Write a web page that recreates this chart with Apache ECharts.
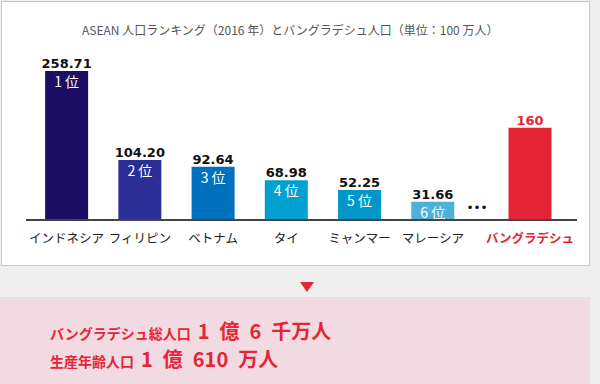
<!DOCTYPE html>
<html>
<head>
<meta charset="utf-8">
<script src="https://cdn.jsdelivr.net/npm/echarts@6/dist/echarts.min.js"></script>
<style>
html,body{margin:0;padding:0;width:600px;height:384px;overflow:hidden;background:#efefef;}
#panel{position:absolute;left:1px;top:1px;width:589px;height:265px;box-sizing:border-box;background:#fff;border:1px solid #c8c8c8;}
#chart{position:absolute;left:0;top:0;width:600px;height:384px;}
#tri{position:absolute;left:300px;top:282px;width:0;height:0;border-left:7.5px solid transparent;border-right:7.5px solid transparent;border-top:10px solid #e52535;}
#note{position:absolute;left:0;top:297px;width:590px;height:87px;background:#f1dae2;color:#e52535;font-family:"Noto Sans CJK JP";font-weight:bold;}
.line{position:absolute;left:50px;white-space:nowrap;line-height:24px;height:24px;}
.s{font-size:14px;}
.b{font-size:20px;margin-left:7px;}
</style>
</head>
<body>
<div id="panel"></div>
<div id="chart"></div>
<div id="tri"></div>
<div id="note">
  <div class="line" style="top:22px;"><span class="s">バングラデシュ総人口</span><span class="b">1&#8194;億&#8194;6&#8194;千万人</span></div>
  <div class="line" style="top:50px;"><span class="s">生産年齢人口</span><span class="b">1&#8194;億&#8194;610&#8194;万人</span></div>
</div>
<script>
// ---- data ----
const titleText = 'ASEAN 人口ランキング（2016 年）とバングラデシュ人口（単位：100 万人）';
const categories = ['インドネシア', 'フィリピン', 'ベトナム', 'タイ', 'ミャンマー', 'マレーシア'];
const values = [258.71, 104.20, 92.64, 68.98, 52.25, 31.66];
const ranks = ['1 位', '2 位', '3 位', '4 位', '5 位', '6 位'];
const bdCategory = ['バングラデシュ'];
const bdValues = [160];
const barColors = ['#1b0e64', '#2b2e96', '#0071be', '#00a0d0', '#0096c8', '#4db2d8'];
const bdColor = '#e52535';

const yMax = Math.max.apply(null, values);
const JP = '"Noto Sans CJK JP", sans-serif';
const NUM = '"DejaVu Sans", sans-serif';

const chart = echarts.init(document.getElementById('chart'), null, {renderer: 'svg'});
chart.setOption({
  animation: false,
  title: {
    text: titleText, left: 82, top: 23, padding: 0,
    textStyle: {color: '#555', fontSize: 12, fontWeight: 'normal', fontFamily: JP}
  },
  grid: [
    {left: 30, width: 439.4, top: 71, bottom: 164, outerBoundsMode: 'none'},
    {left: 483, width: 94, top: 71, bottom: 164, outerBoundsMode: 'none'}
  ],
  xAxis: [
    {type: 'category', gridIndex: 0, data: categories,
     axisLine: {show: false}, axisTick: {show: false},
     axisLabel: {interval: 0, margin: 11, color: '#222', fontSize: 12.5, fontFamily: JP}},
    {type: 'category', gridIndex: 1, data: bdCategory,
     axisLine: {show: false}, axisTick: {show: false},
     axisLabel: {interval: 0, margin: 11, color: bdColor, fontSize: 12.5, fontWeight: 'bold', fontFamily: JP}}
  ],
  yAxis: [
    {type: 'value', gridIndex: 0, min: 0, max: yMax, show: false, splitLine: {show: false}},
    {type: 'value', gridIndex: 1, min: 0, max: yMax, show: false, splitLine: {show: false}}
  ],
  series: [
    {
      type: 'bar', xAxisIndex: 0, yAxisIndex: 0, barWidth: 43, barGap: '-100%',
      data: values.map((v, i) => ({value: v, itemStyle: {color: barColors[i]}})),
      label: {show: true, position: 'top', distance: 1, color: '#111', fontSize: 13, fontWeight: 'bold',
              fontFamily: NUM, formatter: p => p.value.toFixed(2)}
    },
    {
      type: 'bar', xAxisIndex: 0, yAxisIndex: 0, barWidth: 43, barGap: '-100%', silent: true,
      data: values, itemStyle: {color: 'rgba(0,0,0,0)'},
      label: {show: true, position: 'insideTop', distance: 3, color: '#fff', fontSize: 14,
              fontFamily: JP, formatter: p => ranks[p.dataIndex]}
    },
    {
      type: 'bar', xAxisIndex: 1, yAxisIndex: 1, barWidth: 43,
      data: bdValues, itemStyle: {color: bdColor},
      label: {show: true, position: 'top', distance: 1, color: bdColor, fontSize: 13, fontWeight: 'bold',
              fontFamily: NUM, formatter: p => String(p.value)}
    }
  ],
  graphic: [
    {type: 'line', shape: {x1: 26, y1: 220, x2: 577, y2: 220}, style: {stroke: '#444', lineWidth: 2}, z: 10},
    {type: 'text', x: 477, y: 208, style: {text: '•••', fill: '#111', font: '12px "DejaVu Sans"',
      textAlign: 'center', textVerticalAlign: 'middle'}}
  ]
});
</script>
</body>
</html>
